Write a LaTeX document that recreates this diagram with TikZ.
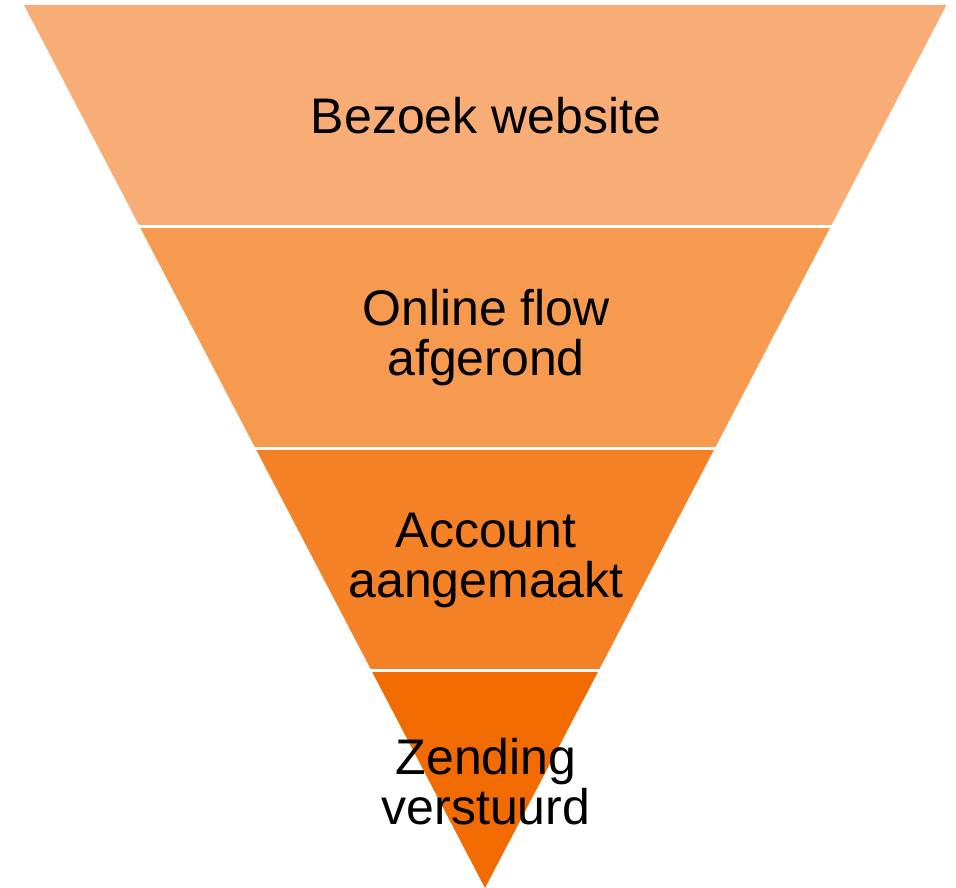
\documentclass[tikz,border=0pt]{standalone}
\usepackage{fontspec}
\setmainfont{Liberation Sans}
\usetikzlibrary{calc}
\definecolor{bandA}{RGB}{248,173,118}
\definecolor{bandB}{RGB}{246,154,80}
\definecolor{bandC}{RGB}{245,129,38}
\definecolor{bandD}{RGB}{242,107,0}
\tikzset{
  label/.style={align=center, text=black, inner sep=0pt,
    font=\fontsize{50}{50}\selectfont},
  gap/.style={draw=white, line width=3pt}
}
\begin{document}
\begin{tikzpicture}[x=1pt,y=-1pt]
\useasboundingbox (0,0) rectangle (956,888);
% funnel corners
\coordinate (L) at (24,5);
\coordinate (R) at (946.5,5);
\coordinate (A) at (485,888);
% boundary points on the two sides
\coordinate (l1) at ($(L)!0.2508!(A)$);
\coordinate (r1) at ($(R)!0.2508!(A)$);
\coordinate (l2) at ($(L)!0.5023!(A)$);
\coordinate (r2) at ($(R)!0.5023!(A)$);
\coordinate (l3) at ($(L)!0.7537!(A)$);
\coordinate (r3) at ($(R)!0.7537!(A)$);
% bands
\fill[bandA] (L) -- (R) -- (r1) -- (l1) -- cycle;
\fill[bandB] (l1) -- (r1) -- (r2) -- (l2) -- cycle;
\fill[bandC] (l2) -- (r2) -- (r3) -- (l3) -- cycle;
\fill[bandD] (l3) -- (r3) -- (A) -- cycle;
% white separators
\draw[gap] ($(l1)+(-3,0)$) -- ($(r1)+(3,0)$);
\draw[gap] ($(l2)+(-3,0)$) -- ($(r2)+(3,0)$);
\draw[gap] ($(l3)+(-3,0)$) -- ($(r3)+(3,0)$);
% labels
\node[label] (t1) at (486,115.5) {Bezoek website};
\node[label] (t2) at (486,338) {Online flow\\afgerond};
\node[label] (t3) at (486,560) {Account\\aangemaakt};
\node[label] (t4) at (486,782) {Zending\\verstuurd};
\end{tikzpicture}
\end{document}
